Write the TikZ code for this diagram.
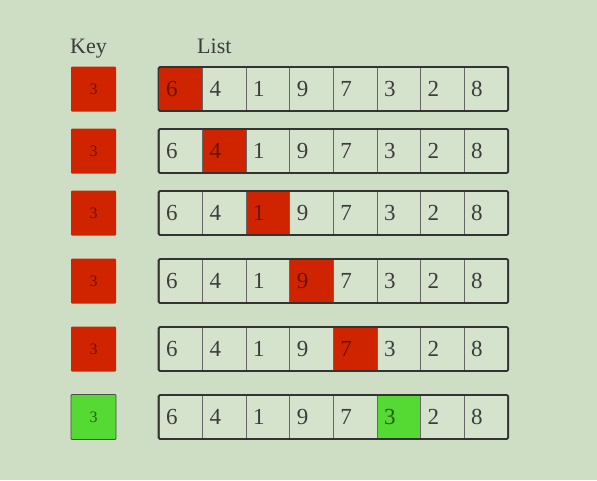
\documentclass[tikz,border=0pt]{standalone}
\usepackage{fontspec}
\setmainfont{Liberation Serif}
\definecolor{bgc}{HTML}{CDDEC4}
\definecolor{cellc}{HTML}{D5E3CD}
\definecolor{redc}{HTML}{D02400}
\definecolor{greenc}{HTML}{55DA33}
\definecolor{txtc}{HTML}{3C3C3C}
\definecolor{darkred}{HTML}{6A1400}
\definecolor{darkgreen}{HTML}{2C5A1E}
\begin{document}
\begin{tikzpicture}[x=1pt,y=-1pt,
  keybox/.style={minimum width=45pt,minimum height=45pt,inner sep=0pt,fill=redc,rounded corners=1pt,text=darkred,font=\fontsize{16}{16}\selectfont},
  keyok/.style={keybox,fill=greenc,draw=black!70,line width=0.8pt,text=darkgreen},
  cell/.style={minimum height=43pt,inner xsep=7pt,inner ysep=0pt,text width=29.6pt,align=left,fill=cellc,draw=black!60,line width=1pt,text=txtc,font=\fontsize{23}{23}\selectfont},
  hitred/.style={fill=redc,text=darkred},
  hitgreen/.style={fill=greenc,text=darkgreen},
  frame/.style={draw=black!80,line width=1.8pt,rounded corners=1.5pt},
  lbl/.style={text=txtc,font=\fontsize{22}{22}\selectfont,inner sep=0pt,anchor=base west}]
\fill[bgc] (0,0) rectangle (597,480);
\useasboundingbox (0,0) rectangle (597,480);
\node[lbl] (keylbl) at (70,53) {Key};
\node[lbl] (listlbl) at (197,53) {List};
\def\vals{{6,4,1,9,7,3,2,8}}
\foreach \r/\y/\h in {1/89/1,2/151/2,3/213/3,4/281/4,5/349/5,6/417/6}{
  \ifnum\r=6
    \node[keyok] (k\r) at (93.5,\y) {3};
  \else
    \node[keybox] (k\r) at (93.5,\y) {3};
  \fi
  \foreach \i in {1,...,8}{
    \pgfmathtruncatemacro{\v}{\vals[\i-1]}
    \pgfmathsetmacro{\cx}{159+43.6*(\i-0.5)}
    \ifnum\i=\h
      \ifnum\r=6
        \node[cell,hitgreen] (c\r-\i) at (\cx,\y) {\v};
      \else
        \node[cell,hitred] (c\r-\i) at (\cx,\y) {\v};
      \fi
    \else
      \node[cell] (c\r-\i) at (\cx,\y) {\v};
    \fi
  }
  \draw[frame] (c\r-1.north west) rectangle (c\r-8.south east);
}
\end{tikzpicture}
\end{document}
